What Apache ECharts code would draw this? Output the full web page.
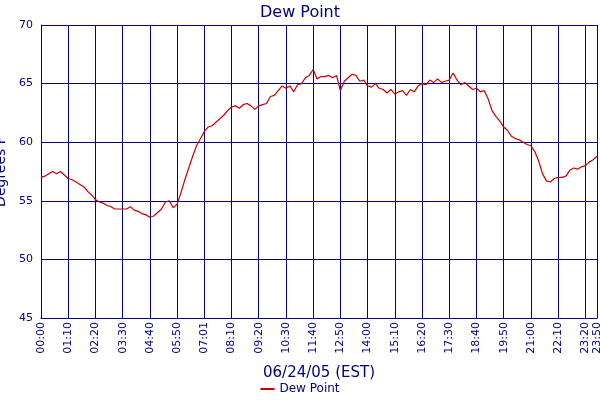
<!DOCTYPE html>
<html><head><meta charset="utf-8">
<script src="https://cdn.jsdelivr.net/npm/echarts@6/dist/echarts.min.js"></script>
<style>html,body{margin:0;padding:0;background:#fff}#c{width:600px;height:400px}</style>
</head><body><div id="c"></div>
<script>
const times = [];
for (let h = 0; h < 24; h++) for (let m = 0; m < 60; m += 10)
  times.push(String(h).padStart(2,'0') + ':' + String(m).padStart(2,'0'));
times[42] = '07:01';
const dewPoint = [
57.0,57.1,57.3,57.5,57.3,57.5, 57.2,56.9,56.8,56.6,56.4,56.2,
55.8,55.5,55.1,54.9,54.8,54.6, 54.5,54.3,54.3,54.3,54.3,54.5,
54.2,54.1,53.9,53.8,53.6,53.7, 54.0,54.3,54.9,55.0,54.4,54.7,
55.7,56.8,57.8,58.8,59.7,60.3, 60.9,61.3,61.4,61.7,62.0,62.3,
62.7,63.0,63.1,62.9,63.2,63.3, 63.1,62.8,63.1,63.2,63.3,63.9,
64.0,64.4,64.8,64.6,64.8,64.3, 64.9,65.0,65.5,65.7,66.2,65.4,
65.6,65.6,65.7,65.5,65.7,64.4, 65.2,65.5,65.8,65.7,65.2,65.3,
64.8,64.7,65.0,64.6,64.5,64.2, 64.5,64.1,64.3,64.4,64.0,64.5,
64.3,64.8,65.0,64.9,65.3,65.1, 65.4,65.1,65.2,65.3,65.9,65.3,
64.9,65.1,64.8,64.5,64.6,64.3, 64.4,63.7,62.7,62.2,61.8,61.3,
61.0,60.5,60.3,60.2,60.0,59.8, 59.7,59.2,58.4,57.3,56.7,56.6,
56.9,57.0,57.0,57.1,57.6,57.8, 57.7,57.9,58.0,58.3,58.5,58.8
];
const yTicks = [45,50,55,60,65,70];
const navy = '#000080';
const F = 'DejaVu Sans';
const chart = echarts.init(document.getElementById('c'));
chart.setOption({
  animation:false,
  title:{text:'Dew Point',left:'center',top:0,textStyle:{color:navy,fontFamily:F,fontWeight:'normal',fontSize:16}},
  legend:{bottom:0,left:'center',icon:'rect',itemWidth:14,itemHeight:2,textStyle:{color:navy,fontFamily:F,fontSize:12},data:['Dew Point']},
  grid:{left:41,right:3,top:25,bottom:82,containLabel:false,outerBoundsMode:'none'},
  xAxis:{type:'category',data:times,boundaryGap:false,
    name:'06/24/05 (EST)',nameLocation:'middle',nameGap:48,
    nameTextStyle:{color:navy,fontFamily:F,fontSize:15},
    axisLine:{lineStyle:{color:navy}},axisTick:{show:false},
    axisLabel:{rotate:90,color:navy,fontFamily:F,fontSize:11,margin:4,
      interval:(i)=>i%7===0||i===143},
    splitLine:{show:true,interval:(i)=>i%7===0||i===143,lineStyle:{color:navy,width:1}}},
  yAxis:{type:'value',min:45,max:70,interval:5,
    name:'Degrees F',nameLocation:'middle',nameGap:28,
    nameTextStyle:{color:navy,fontFamily:F,fontSize:14},
    axisLine:{show:true,lineStyle:{color:navy}},axisTick:{show:false},
    axisLabel:{color:navy,fontFamily:F,fontSize:11,margin:8,
      formatter:(v)=>yTicks.includes(v)?String(v):''},
    splitLine:{lineStyle:{color:navy,width:1}}},
  series:[{name:'Dew Point',type:'line',data:dewPoint,symbol:'none',
    lineStyle:{color:'#cc0000',width:1.2},itemStyle:{color:'#cc0000'}}]
});
</script></body></html>
